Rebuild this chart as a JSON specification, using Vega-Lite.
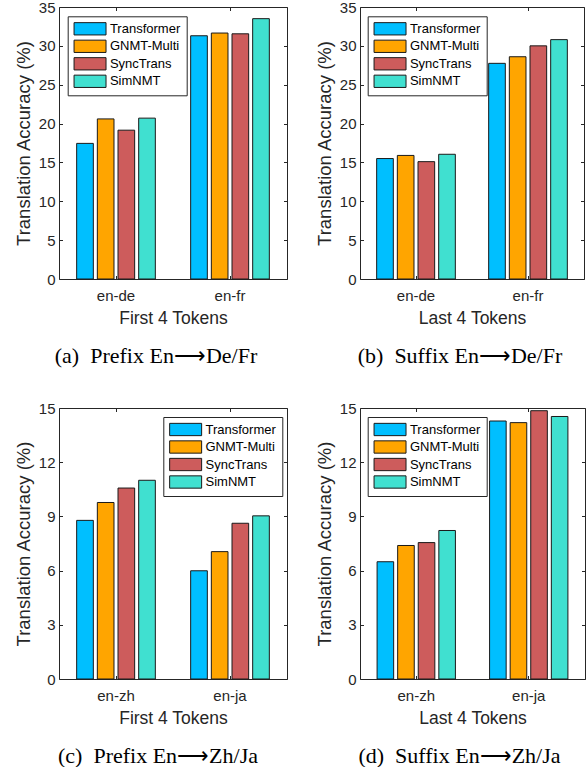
{
  "$schema": "https://vega.github.io/schema/vega-lite/v6.json",
  "padding": {"left": 14, "top": 0, "right": 0, "bottom": 0},
  "background": "white",
  "data": {"values": [
    {"panel": "a", "pair": "en-de", "model": "Transformer", "value": 17.45},
    {"panel": "a", "pair": "en-de", "model": "GNMT-Multi", "value": 20.6},
    {"panel": "a", "pair": "en-de", "model": "SyncTrans", "value": 19.15},
    {"panel": "a", "pair": "en-de", "model": "SimNMT", "value": 20.7},
    {"panel": "a", "pair": "en-fr", "model": "Transformer", "value": 31.3},
    {"panel": "a", "pair": "en-fr", "model": "GNMT-Multi", "value": 31.65},
    {"panel": "a", "pair": "en-fr", "model": "SyncTrans", "value": 31.55},
    {"panel": "a", "pair": "en-fr", "model": "SimNMT", "value": 33.5},
    {"panel": "b", "pair": "en-de", "model": "Transformer", "value": 15.5},
    {"panel": "b", "pair": "en-de", "model": "GNMT-Multi", "value": 15.9},
    {"panel": "b", "pair": "en-de", "model": "SyncTrans", "value": 15.1},
    {"panel": "b", "pair": "en-de", "model": "SimNMT", "value": 16.05},
    {"panel": "b", "pair": "en-fr", "model": "Transformer", "value": 27.75},
    {"panel": "b", "pair": "en-fr", "model": "GNMT-Multi", "value": 28.6},
    {"panel": "b", "pair": "en-fr", "model": "SyncTrans", "value": 30.0},
    {"panel": "b", "pair": "en-fr", "model": "SimNMT", "value": 30.8},
    {"panel": "c", "pair": "en-zh", "model": "Transformer", "value": 8.78},
    {"panel": "c", "pair": "en-zh", "model": "GNMT-Multi", "value": 9.77},
    {"panel": "c", "pair": "en-zh", "model": "SyncTrans", "value": 10.57},
    {"panel": "c", "pair": "en-zh", "model": "SimNMT", "value": 11.0},
    {"panel": "c", "pair": "en-ja", "model": "Transformer", "value": 5.99},
    {"panel": "c", "pair": "en-ja", "model": "GNMT-Multi", "value": 7.05},
    {"panel": "c", "pair": "en-ja", "model": "SyncTrans", "value": 8.62},
    {"panel": "c", "pair": "en-ja", "model": "SimNMT", "value": 9.03},
    {"panel": "d", "pair": "en-zh", "model": "Transformer", "value": 6.49},
    {"panel": "d", "pair": "en-zh", "model": "GNMT-Multi", "value": 7.39},
    {"panel": "d", "pair": "en-zh", "model": "SyncTrans", "value": 7.55},
    {"panel": "d", "pair": "en-zh", "model": "SimNMT", "value": 8.22},
    {"panel": "d", "pair": "en-ja", "model": "Transformer", "value": 14.28},
    {"panel": "d", "pair": "en-ja", "model": "GNMT-Multi", "value": 14.19},
    {"panel": "d", "pair": "en-ja", "model": "SyncTrans", "value": 14.85},
    {"panel": "d", "pair": "en-ja", "model": "SimNMT", "value": 14.53}
  ]},
  "spacing": 34,
  "resolve": {"scale": {"x": "independent", "y": "independent", "xOffset": "independent"}, "legend": {"color": "independent"}},
  "vconcat": [
    {
      "spacing": 27,
      "resolve": {"scale": {"x": "independent", "y": "independent", "xOffset": "independent"}, "legend": {"color": "independent"}},
      "hconcat": [
        {
          "width": 228, "height": 272,
          "transform": [{"filter": "datum.panel === 'a'"}],
          "title": {"text": "(a)\u00a0 Prefix En⟶De/Fr", "dx": -17},
          "layer": [
            {"mark": {"type": "bar", "stroke": "#1a1a1a", "strokeWidth": 1},
             "encoding": {
               "x": {"field": "pair", "type": "nominal", "sort": null, "scale": {"paddingInner": 0, "paddingOuter": 0}, "axis": {"orient": "bottom", "title": "First 4 Tokens", "labelAngle": 0}},
               "xOffset": {"field": "model", "type": "nominal", "sort": ["Transformer", "GNMT-Multi", "SyncTrans", "SimNMT"], "scale": {"paddingInner": 0.194, "paddingOuter": 0.855}},
               "y": {"field": "value", "type": "quantitative", "scale": {"domain": [0, 35], "nice": false}, "axis": {"orient": "left", "values": [0, 5, 10, 15, 20, 25, 30, 35], "title": "Translation Accuracy (%)"}},
               "color": {"field": "model", "type": "nominal", "sort": ["Transformer", "GNMT-Multi", "SyncTrans", "SimNMT"], "scale": {"domain": ["Transformer", "GNMT-Multi", "SyncTrans", "SimNMT"], "range": ["#00BFFF", "#FFA500", "#CD5C5C", "#40E0D0"]}, "legend": {"orient": "none", "legendX": 8.7, "legendY": 9.3, "title": null}}
             }},
            {"mark": {"type": "point", "opacity": 0},
             "encoding": {
               "x": {"field": "pair", "type": "nominal", "sort": null, "axis": {"orient": "top", "labels": false, "title": null}},
               "y": {"field": "value", "type": "quantitative", "axis": {"orient": "right", "labels": false, "title": null, "values": [0, 5, 10, 15, 20, 25, 30, 35]}}
             }}
          ]
        },
        {
          "width": 224, "height": 272,
          "transform": [{"filter": "datum.panel === 'b'"}],
          "title": {"text": "(b)\u00a0 Suffix En⟶De/Fr", "dx": -12},
          "layer": [
            {"mark": {"type": "bar", "stroke": "#1a1a1a", "strokeWidth": 1},
             "encoding": {
               "x": {"field": "pair", "type": "nominal", "sort": null, "scale": {"paddingInner": 0, "paddingOuter": 0}, "axis": {"orient": "bottom", "title": "Last 4 Tokens", "labelAngle": 0}},
               "xOffset": {"field": "model", "type": "nominal", "sort": ["Transformer", "GNMT-Multi", "SyncTrans", "SimNMT"], "scale": {"paddingInner": 0.194, "paddingOuter": 0.806}},
               "y": {"field": "value", "type": "quantitative", "scale": {"domain": [0, 35], "nice": false}, "axis": {"orient": "left", "values": [0, 5, 10, 15, 20, 25, 30, 35], "title": "Translation Accuracy (%)"}},
               "color": {"field": "model", "type": "nominal", "sort": ["Transformer", "GNMT-Multi", "SyncTrans", "SimNMT"], "scale": {"domain": ["Transformer", "GNMT-Multi", "SyncTrans", "SimNMT"], "range": ["#00BFFF", "#FFA500", "#CD5C5C", "#40E0D0"]}, "legend": {"orient": "none", "legendX": 7.7, "legendY": 9.3, "title": null}}
             }},
            {"mark": {"type": "point", "opacity": 0},
             "encoding": {
               "x": {"field": "pair", "type": "nominal", "sort": null, "axis": {"orient": "top", "labels": false, "title": null}},
               "y": {"field": "value", "type": "quantitative", "axis": {"orient": "right", "labels": false, "title": null, "values": [0, 5, 10, 15, 20, 25, 30, 35]}}
             }}
          ]
        }
      ]
    },
    {
      "spacing": 27,
      "resolve": {"scale": {"x": "independent", "y": "independent", "xOffset": "independent"}, "legend": {"color": "independent"}},
      "hconcat": [
        {
          "width": 228, "height": 271,
          "transform": [{"filter": "datum.panel === 'c'"}],
          "title": {"text": "(c)\u00a0 Prefix En⟶Zh/Ja", "dx": -15},
          "layer": [
            {"mark": {"type": "bar", "stroke": "#1a1a1a", "strokeWidth": 1},
             "encoding": {
               "x": {"field": "pair", "type": "nominal", "sort": null, "scale": {"paddingInner": 0, "paddingOuter": 0}, "axis": {"orient": "bottom", "title": "First 4 Tokens", "labelAngle": 0}},
               "xOffset": {"field": "model", "type": "nominal", "sort": ["Transformer", "GNMT-Multi", "SyncTrans", "SimNMT"], "scale": {"paddingInner": 0.194, "paddingOuter": 0.855}},
               "y": {"field": "value", "type": "quantitative", "scale": {"domain": [0, 15], "nice": false}, "axis": {"orient": "left", "values": [0, 3, 6, 9, 12, 15], "title": "Translation Accuracy (%)"}},
               "color": {"field": "model", "type": "nominal", "sort": ["Transformer", "GNMT-Multi", "SyncTrans", "SimNMT"], "scale": {"domain": ["Transformer", "GNMT-Multi", "SyncTrans", "SimNMT"], "range": ["#00BFFF", "#FFA500", "#CD5C5C", "#40E0D0"]}, "legend": {"orient": "none", "legendX": 104.3, "legendY": 9, "title": null}}
             }},
            {"mark": {"type": "point", "opacity": 0},
             "encoding": {
               "x": {"field": "pair", "type": "nominal", "sort": null, "axis": {"orient": "top", "labels": false, "title": null}},
               "y": {"field": "value", "type": "quantitative", "axis": {"orient": "right", "labels": false, "title": null, "values": [0, 3, 6, 9, 12, 15]}}
             }}
          ]
        },
        {
          "width": 225, "height": 271,
          "transform": [{"filter": "datum.panel === 'd'"}],
          "title": {"text": "(d)\u00a0 Suffix En⟶Zh/Ja", "dx": -13},
          "layer": [
            {"mark": {"type": "bar", "stroke": "#1a1a1a", "strokeWidth": 1},
             "encoding": {
               "x": {"field": "pair", "type": "nominal", "sort": null, "scale": {"paddingInner": 0, "paddingOuter": 0}, "axis": {"orient": "bottom", "title": "Last 4 Tokens", "labelAngle": 0}},
               "xOffset": {"field": "model", "type": "nominal", "sort": ["Transformer", "GNMT-Multi", "SyncTrans", "SimNMT"], "scale": {"paddingInner": 0.194, "paddingOuter": 0.83}},
               "y": {"field": "value", "type": "quantitative", "scale": {"domain": [0, 15], "nice": false}, "axis": {"orient": "left", "values": [0, 3, 6, 9, 12, 15], "title": "Translation Accuracy (%)"}},
               "color": {"field": "model", "type": "nominal", "sort": ["Transformer", "GNMT-Multi", "SyncTrans", "SimNMT"], "scale": {"domain": ["Transformer", "GNMT-Multi", "SyncTrans", "SimNMT"], "range": ["#00BFFF", "#FFA500", "#CD5C5C", "#40E0D0"]}, "legend": {"orient": "none", "legendX": 7.7, "legendY": 9, "title": null}}
             }},
            {"mark": {"type": "point", "opacity": 0},
             "encoding": {
               "x": {"field": "pair", "type": "nominal", "sort": null, "axis": {"orient": "top", "labels": false, "title": null}},
               "y": {"field": "value", "type": "quantitative", "axis": {"orient": "right", "labels": false, "title": null, "values": [0, 3, 6, 9, 12, 15]}}
             }}
          ]
        }
      ]
    }
  ],
  "config": {
    "view": {"stroke": null},
    "title": {"orient": "bottom", "anchor": "middle", "frame": "group", "font": "Liberation Serif", "fontSize": 22, "fontWeight": "normal", "color": "#000000", "offset": 19},
    "axis": {
      "grid": false,
      "domainColor": "#262626", "domainWidth": 1,
      "tickColor": "#262626", "tickWidth": 1, "tickSize": -3.5,
      "labelColor": "#262626", "labelFont": "Liberation Sans", "labelFontSize": 15,
      "titleColor": "#262626", "titleFont": "Liberation Sans", "titleFontWeight": "normal"
    },
    "axisX": {"labelPadding": 12.5, "titleFontSize": 17.5, "titlePadding": 6.5},
    "axisY": {"labelPadding": 7.5, "titleFontSize": 18.5, "titlePadding": 5},
    "legend": {
      "symbolType": "M-1,-1H4.2V1H-1Z", "symbolSize": 151.3,
      "symbolStrokeColor": "#1a1a1a", "symbolStrokeWidth": 1, "symbolOpacity": 1,
      "labelFont": "Liberation Sans", "labelFontSize": 13, "labelColor": "#000000",
      "labelOffset": 22.7, "rowPadding": -0.5,
      "strokeColor": "#262626", "fillColor": "#ffffff", "padding": 5.5, "cornerRadius": 0
    }
  }
}
